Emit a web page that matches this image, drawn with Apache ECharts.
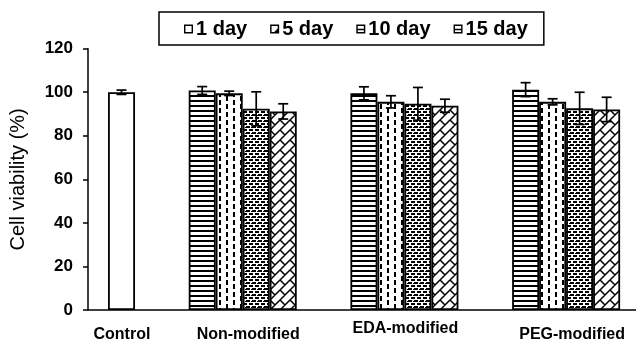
<!DOCTYPE html>
<html>
<head>
<meta charset="utf-8">
<script src="https://cdn.jsdelivr.net/npm/echarts@6/dist/echarts.min.js"></script>
<style>
  html, body { margin: 0; padding: 0; background: #fff; }
  #chart { width: 636px; height: 343px; }
</style>
</head>
<body>
<div id="chart"></div>
<script>
// Groups along the x axis and the four time points
const categories = ['Control', 'Non-modified', 'EDA-modified', 'PEG-modified'];
const seriesNames = ['1 day', '5 day', '10 day', '15 day'];

// Control viability (%) and its error
const controlValue = 100.0;
const controlError = 1.0;

// Viability (%) for Non-modified, EDA-modified, PEG-modified
const day1 = [100.8, 99.5, 101.2];
const day1Err = [1.8, 3.0, 3.2];
const day5 = [99.5, 95.6, 95.6];
const day5Err = [1.0, 2.8, 1.4];
const day10 = [92.4, 94.7, 92.6];
const day10Err = [7.8, 7.5, 7.4];
const day15 = [91.2, 93.8, 92.1];
const day15Err = [3.5, 3.0, 5.6];

const yTicks = [0, 20, 40, 60, 80, 100, 120];

// ---- layout constants ----
const FONT = '"Liberation Sans", Arial, Helvetica, sans-serif';
const BAR_W = 27;          // px per bar
const CAP_W = 10;          // px error-bar cap
const GRID_LEFT = 87;
const UNIT_PX = 162;       // px per category step
const X_MIN = 7 / UNIT_PX;
const X_MAX = X_MIN + (636 - GRID_LEFT) / UNIT_PX;
// where each group label sits, relative to its group index
const labelShift = [0.253, 0.034, 0.006, 0.037];

// ---- fill patterns ----
function tile(w, h, draw) {
  const c = document.createElement('canvas');
  c.width = w; c.height = h;
  const g = c.getContext('2d');
  g.fillStyle = '#fff';
  g.fillRect(0, 0, w, h);
  g.fillStyle = '#000';
  g.strokeStyle = '#000';
  draw(g);
  return { image: c, repeat: 'repeat' };
}
const fills = [
  // horizontal stripes
  tile(6, 5, g => g.fillRect(0, 0, 6, 2)),
  // staggered vertical dashes
  tile(14, 8, g => { g.fillRect(2, 0, 2, 5); g.fillRect(9, 4, 2, 4); g.fillRect(9, 0, 2, 1); }),
  // dense pebbles
  tile(6, 6, g => { g.fillRect(0, 0, 4, 2); g.fillRect(3, 3, 3, 2); g.fillRect(0, 3, 1, 2); g.fillRect(5, 1, 1, 1); }),
  // diagonal brick
  tile(10, 10, g => {
    g.lineWidth = 1.5;
    g.beginPath();
    g.moveTo(-1, 11); g.lineTo(11, -1);
    g.moveTo(-1, 1); g.lineTo(1, -1);
    g.moveTo(9, 11); g.lineTo(11, 9);
    g.moveTo(-0.5, -0.5); g.lineTo(5, 5);
    g.moveTo(9.5, 9.5); g.lineTo(10.5, 10.5);
    g.stroke();
  })
];

const legendIcons = [
  'path://M0,0H10V10H0Z M1.6,1.6V8.4H8.4V1.6Z',
  'path://M0,0H10V10H0Z M1.6,1.6V8.4H8.4V1.6Z M8.4,4.5L8.4,8.4L4.5,8.4Z',
  'path://M0,0H10V10H0Z M1.6,1.6V4.6H8.4V1.6Z M1.6,6.4V8.4H8.4V6.4Z',
  'path://M0,0H10V10H0Z M1.6,1.6V4.6H8.4V1.6Z M1.6,6.4V8.4H8.4V6.4Z'
];

const groupValues = [day1, day5, day10, day15];
const groupErrors = [day1Err, day5Err, day10Err, day15Err];

const barSeries = seriesNames.map((name, k) => ({
  name: name,
  type: 'bar',
  stack: 'slot' + k,
  barWidth: BAR_W,
  barGap: '0%',
  itemStyle: { color: fills[k], borderColor: '#000', borderWidth: 1.8 },
  data: categories.map((c, i) => [i, i === 0 ? '-' : groupValues[k][i - 1]])
}));

// Control shares the last slot of its group
const controlSeries = {
  name: 'Control',
  type: 'bar',
  stack: 'slot3',
  barWidth: BAR_W,
  barGap: '0%',
  itemStyle: { color: '#fff', borderColor: '#000', borderWidth: 1.8 },
  data: categories.map((c, i) => [i, i === 0 ? controlValue : '-'])
};

// error bars: [groupIndex, value, error, slot]
const errData = [[0, controlValue, controlError, 3]];
groupValues.forEach((vals, k) => {
  vals.forEach((v, i) => errData.push([i + 1, v, groupErrors[k][i], k]));
});

const errorSeries = {
  type: 'custom',
  z: 10,
  silent: true,
  data: errData,
  encode: { x: 0, y: 1 },
  renderItem: function (params, api) {
    const x = api.value(0), v = api.value(1), e = api.value(2), slot = api.value(3);
    const top = api.coord([x, v + e]);
    const bot = api.coord([x, v - e]);
    const cx = top[0] + (slot - 1.5) * BAR_W;
    const st = { stroke: '#000', lineWidth: 1.7 };
    const h = CAP_W / 2;
    return {
      type: 'group',
      children: [
        { type: 'line', shape: { x1: cx, y1: top[1], x2: cx, y2: bot[1] }, style: st },
        { type: 'line', shape: { x1: cx - h, y1: top[1], x2: cx + h, y2: top[1] }, style: st },
        { type: 'line', shape: { x1: cx - h, y1: bot[1], x2: cx + h, y2: bot[1] }, style: st }
      ]
    };
  }
};

const chart = echarts.init(document.getElementById('chart'), null, { renderer: 'canvas' });
chart.setOption({
  animation: false,
  backgroundColor: '#fff',
  textStyle: { fontFamily: FONT, color: '#000' },
  legend: {
    left: 159,
    top: 12,
    padding: [7, 16, 6, 25],
    borderColor: '#000',
    borderWidth: 1.5,
    itemGap: 23,
    itemWidth: 9,
    itemHeight: 9,
    textStyle: { fontFamily: FONT, fontSize: 20, fontWeight: 'bold', color: '#000', padding: [0, 0, 0, -2] },
    data: seriesNames.map((n, i) => ({
      name: n,
      icon: legendIcons[i],
      itemStyle: { color: '#000', borderWidth: 0 }
    }))
  },
  grid: { left: GRID_LEFT, right: 0, top: 48.7, bottom: 30.3, containLabel: false },
  xAxis: {
    type: 'value',
    min: X_MIN,
    max: X_MAX,
    splitLine: { show: false },
    axisTick: { show: false },
    axisLine: { lineStyle: { color: '#000', width: 1.5 } },
    axisLabel: {
      customValues: categories.map((c, i) => i + labelShift[i]),
      formatter: function (v) {
        const i = Math.round(v);
        return i === 2 ? '{up|' + categories[i] + '}' : '{dn|' + categories[i] + '}';
      },
      margin: 11,
      rich: {
        up: { fontFamily: FONT, fontSize: 16, fontWeight: 'bold', color: '#000', padding: [0, 0, 0, 0] },
        dn: { fontFamily: FONT, fontSize: 16, fontWeight: 'bold', color: '#000', padding: [6, 0, 0, 0] }
      }
    }
  },
  yAxis: {
    type: 'value',
    min: yTicks[0],
    max: yTicks[yTicks.length - 1],
    interval: 20,
    name: 'Cell viability (%)',
    nameLocation: 'middle',
    nameGap: 60,
    nameTextStyle: { fontFamily: FONT, fontSize: 20, color: '#000' },
    splitLine: { show: false },
    axisLine: { show: true, onZero: false, lineStyle: { color: '#000', width: 1.5 } },
    axisTick: { show: true, length: 5, lineStyle: { color: '#000', width: 1.5 } },
    axisLabel: { fontFamily: FONT, fontSize: 17, fontWeight: 'bold', color: '#000', margin: 15 }
  },
  series: barSeries.concat([controlSeries, errorSeries])
});
</script>
</body>
</html>
